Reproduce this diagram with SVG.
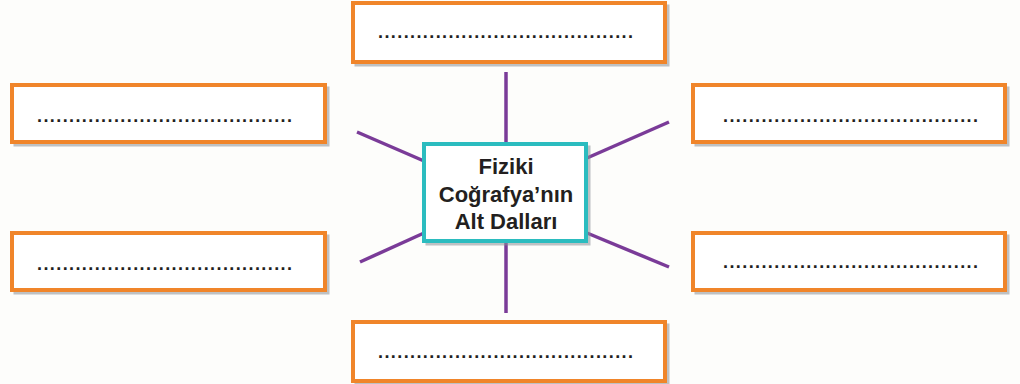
<svg xmlns="http://www.w3.org/2000/svg" width="1020" height="384" viewBox="0 0 1020 384">
<style>
.box{fill:#ffffff;stroke:#f0852a;stroke-width:4}
.shadow{fill:none;stroke:#8a9096;stroke-width:3;opacity:0.55}
.dots{font-family:"Liberation Sans",Arial,sans-serif;font-size:18px;font-weight:bold;fill:#231f20}
.center{fill:#ffffff;stroke:#2bbcbf;stroke-width:4}
.title{font-family:"Liberation Sans",Arial,sans-serif;font-size:22px;font-weight:bold;fill:#231f20;text-anchor:middle}
.conn line{stroke:#7a3b98;stroke-width:3.5}
</style>
<rect width="1020" height="384" fill="#fdfdfb"/>
<g class="conn" id="connectors">
<line x1="506" y1="72" x2="506" y2="144"/>
<line x1="506" y1="241" x2="506" y2="313"/>
<line x1="357" y1="132" x2="424" y2="161"/>
<line x1="424" y1="233" x2="360" y2="262"/>
<line x1="587" y1="158" x2="669" y2="122"/>
<line x1="587" y1="233" x2="669" y2="267"/>
</g>
<g id="top">
<rect class="shadow" x="356" y="6" width="312" height="59"/>
<rect class="box" x="353" y="3" width="312" height="59"/>
<text class="dots" x="378" y="38" textLength="255" lengthAdjust="spacing">........................................</text>
</g>
<g id="left-top">
<rect class="shadow" x="15" y="88" width="313" height="57"/>
<rect class="box" x="12" y="85" width="313" height="57"/>
<text class="dots" x="37" y="122" textLength="255" lengthAdjust="spacing">........................................</text>
</g>
<g id="right-top">
<rect class="shadow" x="696" y="88" width="312" height="57"/>
<rect class="box" x="693" y="85" width="312" height="57"/>
<text class="dots" x="723" y="122" textLength="255" lengthAdjust="spacing">........................................</text>
</g>
<g id="left-bottom">
<rect class="shadow" x="15" y="236" width="313" height="57"/>
<rect class="box" x="12" y="233" width="313" height="57"/>
<text class="dots" x="37" y="270" textLength="255" lengthAdjust="spacing">........................................</text>
</g>
<g id="right-bottom">
<rect class="shadow" x="696" y="236" width="312" height="57"/>
<rect class="box" x="693" y="233" width="312" height="57"/>
<text class="dots" x="723" y="268" textLength="255" lengthAdjust="spacing">........................................</text>
</g>
<g id="bottom">
<rect class="shadow" x="356" y="325" width="312" height="59"/>
<rect class="box" x="353" y="322" width="312" height="59"/>
<text class="dots" x="378" y="358" textLength="255" lengthAdjust="spacing">........................................</text>
</g>
<g id="center">
<rect class="shadow" x="427" y="147" width="162" height="97"/>
<rect class="center" x="424" y="144" width="162" height="97"/>
<text class="title" x="506" y="174">Fiziki</text>
<text class="title" x="506" y="202">Coğrafya’nın</text>
<text class="title" x="506" y="229">Alt Dalları</text>
</g>
</svg>
